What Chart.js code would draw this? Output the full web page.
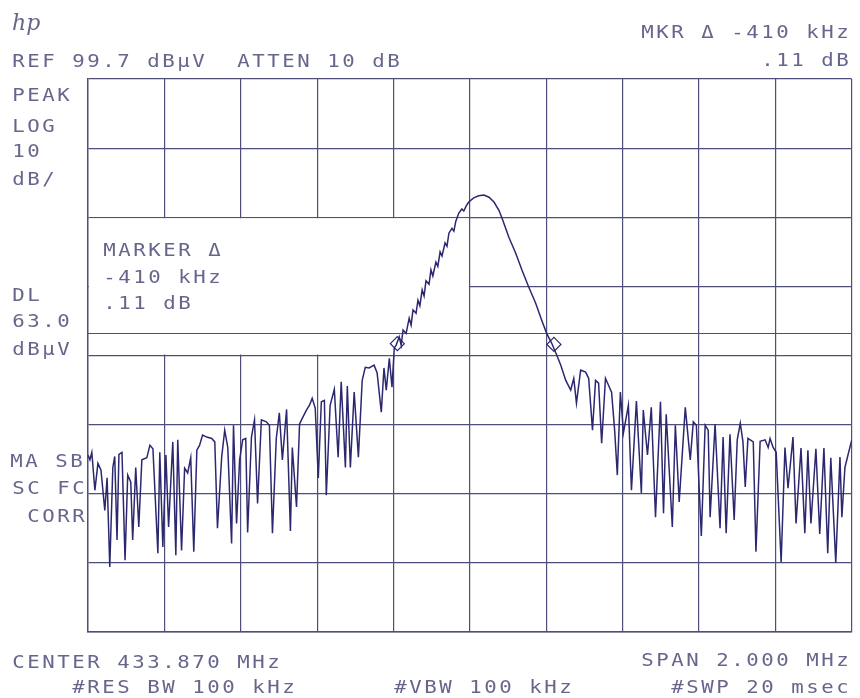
<!DOCTYPE html>
<html>
<head>
<meta charset="utf-8">
<script src="https://cdn.jsdelivr.net/npm/chart.js@4.4.1/dist/chart.umd.min.js"></script>
<style>
  html, body { margin: 0; padding: 0; background: #fff; }
  canvas { display: block; }
</style>
</head>
<body>
<canvas id="specChart" width="860" height="698"></canvas>
<script>
// analyzer state
const refLevel = 99.7;        // dBuV, top graticule line
const attenDb = 10;
const centerMHz = 433.870;
const spanKHz = 2000;
const rbwKHz = 100;
const vbwKHz = 100;
const sweepMs = 20;
const displayLine = 63.0;     // DL, dBuV

// marker pair: reference marker and delta marker
const refMarkerKHz = 220;
const refMarkerDbuv = 61.30;
const deltaKHz = -410;
const deltaDb = 0.11;

// graticule
const freqGridKHz = [-1000, -800, -600, -400, -200, 0, 200, 400, 600, 800, 1000];
const levelGridDbuv = [19.7, 29.7, 39.7, 49.7, 59.7, 69.7, 79.7, 89.7, 99.7];

// trace A, offset from center (kHz) and level (dBuV)
const sweepKHz = [
  -1000, -995, -990, -982, -974, -966, -956, -950, -943, -935,
  -930, -924, -919, -911, -903, -896, -888, -883, -875, -867,
  -859, -846, -838, -830, -817, -812, -804, -796, -789, -778,
  -770, -765, -755, -747, -739, -731, -723, -715, -708, -700,
  -689, -676, -668, -661, -650, -642, -634, -624, -619, -611,
  -603, -595, -587, -582, -572, -564, -556, -546, -533, -525,
  -517, -507, -499, -491, -480, -470, -465, -454, -446, -439,
  -428, -420, -413, -405, -397, -389, -381, -376, -366, -355,
  -345, -337, -326, -321, -313, -303, -292, -282, -274, -264,
  -251, -243, -232, -225, -219, -211, -204, -198, -193, -185,
  -180, -175, -167, -159, -154, -149, -141, -136, -131, -125,
  -120, -115, -107, -102, -97, -89, -84, -78, -73, -65,
  -60, -55, -47, -42, -37, -29, -21, -16, -10, -3,
  10, 23, 37, 50, 63, 76, 84, 102, 120, 136,
  154, 172, 188, 201, 214, 227, 238, 251, 264, 272,
  279, 290, 303, 311, 321, 329, 337, 345, 355, 363,
  371, 379, 386, 394, 402, 415, 423, 436, 449, 454,
  465, 475, 486, 499, 507, 514, 530, 538, 548, 564,
  577, 585, 593, 606, 616, 624, 629, 642, 655, 663,
  671, 681, 692, 700, 708, 715, 721, 728, 742, 749,
  760, 773, 781, 786, 794, 802, 815, 825, 833, 846,
  854, 867, 877, 885, 893, 906, 916, 927, 937, 945,
  958, 969, 974, 982, 990, 1000
];
const traceDbuv = [
  45.3, 44.6, 45.7, 40.2, 44.1, 43.1, 37.3, 42.0, 29.1, 43.5,
  45.1, 33.0, 45.4, 45.7, 30.1, 42.4, 41.4, 33.0, 43.5, 34.9,
  44.6, 44.9, 46.7, 46.2, 31.1, 45.7, 32.0, 45.3, 34.9, 47.2,
  30.8, 47.5, 31.5, 43.4, 42.7, 44.9, 31.3, 46.0, 46.7, 48.2,
  47.9, 47.7, 47.2, 34.7, 45.0, 48.9, 46.4, 32.5, 49.6, 35.4,
  44.6, 47.5, 47.7, 34.1, 47.9, 50.4, 38.3, 50.4, 50.1, 49.6,
  34.0, 47.7, 51.4, 44.6, 51.9, 34.3, 46.4, 37.8, 49.8, 50.6,
  51.8, 52.5, 53.5, 52.1, 42.0, 53.0, 53.2, 39.5, 52.5, 54.8,
  45.0, 55.9, 43.5, 55.3, 43.5, 54.4, 45.0, 56.1, 58.0, 57.9,
  58.3, 57.2, 51.5, 57.9, 54.7, 59.3, 55.1, 60.8, 61.2, 62.4,
  61.2, 63.4, 62.9, 65.1, 64.1, 66.3, 65.8, 67.7, 66.9, 69.2,
  68.3, 70.5, 70.0, 72.1, 71.2, 73.2, 72.6, 74.7, 74.1, 76.0,
  75.5, 77.4, 78.1, 77.7, 79.1, 80.3, 80.9, 80.6, 81.3, 81.9,
  82.5, 82.8, 82.9, 82.6, 81.9, 80.7, 79.6, 76.8, 74.5, 72.1,
  69.6, 67.3, 64.8, 62.9, 61.5, 59.8, 58.3, 56.1, 54.7, 56.4,
  52.8, 57.6, 57.3, 56.4, 48.9, 56.1, 55.7, 47.0, 56.4, 55.4,
  54.4, 48.9, 42.4, 54.4, 48.5, 52.5, 40.2, 53.1, 39.8, 51.8,
  45.3, 52.2, 36.3, 53.0, 36.9, 51.2, 34.9, 49.6, 38.5, 52.2,
  44.6, 50.1, 49.6, 33.6, 49.6, 48.9, 36.3, 49.8, 34.7, 47.9,
  34.0, 48.3, 35.9, 47.5, 49.9, 47.2, 40.7, 47.7, 47.2, 31.3,
  47.3, 47.5, 46.4, 47.7, 46.4, 45.7, 29.8, 46.4, 40.5, 47.9,
  35.4, 46.3, 34.0, 46.0, 35.4, 46.2, 33.9, 46.3, 31.1, 44.9,
  29.7, 45.0, 36.3, 43.5, 45.3, 47.5
];

const gridInk = '#4e4e7a';
const traceInk = '#2c2870';
const textInk = '#66668c';

// plotter style lettering, fixed pitch
function plotText(c, str, x, y, align) {
  const pitch = 15;
  const chars = Array.from(str);
  const x0 = align === 'right' ? x - chars.length * pitch : x;
  c.save();
  c.font = '18px "DejaVu Sans Mono"';
  c.fillStyle = textInk;
  c.textAlign = 'center';
  c.textBaseline = 'alphabetic';
  chars.forEach((ch, i) => {
    c.save();
    c.translate(x0 + i * pitch + pitch / 2, y);
    c.scale(1.15, 1);
    c.fillText(ch, 0, 0);
    c.restore();
  });
  c.restore();
}

const fmtDb = v => v.toFixed(2).replace(/^0/, '');

// blank the graticule behind the marker readout, then the display line
const graticuleMask = {
  id: 'graticuleMask',
  beforeDatasetsDraw(chart) {
    const { ctx, scales: { x, y }, chartArea } = chart;
    const x0 = x.getPixelForValue(freqGridKHz[0]) + 1;
    const x1 = x.getPixelForValue(0) - 1;
    const y0 = y.getPixelForValue(levelGridDbuv[6]) + 1;
    const y1 = y.getPixelForValue(levelGridDbuv[4]) - 1;
    ctx.save();
    ctx.fillStyle = '#fff';
    ctx.fillRect(x0, y0, x1 - x0, y1 - y0);
    const yDl = Math.round(y.getPixelForValue(displayLine)) + 0.5;
    ctx.strokeStyle = gridInk;
    ctx.lineWidth = 1.2;
    ctx.beginPath();
    ctx.moveTo(chartArea.left, yDl);
    ctx.lineTo(chartArea.right, yDl);
    ctx.stroke();
    ctx.restore();
  }
};

const annotations = {
  id: 'annotations',
  afterDraw(chart) {
    const c = chart.ctx;
    c.save();
    c.font = 'italic 22px "DejaVu Serif"';
    c.fillStyle = textInk;
    c.fillText('hp', 12, 30);
    c.restore();

    plotText(c, 'REF ' + refLevel.toFixed(1) + ' dBµV  ATTEN ' + attenDb + ' dB', 11, 67);
    plotText(c, 'MKR Δ ' + deltaKHz + ' kHz', 850, 38, 'right');
    plotText(c, fmtDb(deltaDb) + ' dB', 850, 66, 'right');

    plotText(c, 'PEAK', 11, 101);
    plotText(c, 'LOG', 11, 132);
    plotText(c, '10', 11, 157);
    plotText(c, 'dB/', 11, 185);

    plotText(c, 'MARKER Δ', 102, 256);
    plotText(c, deltaKHz + ' kHz', 102, 283);
    plotText(c, fmtDb(deltaDb) + ' dB', 102, 309);

    plotText(c, 'DL', 11, 301);
    plotText(c, displayLine.toFixed(1), 11, 327);
    plotText(c, 'dBµV', 11, 355);

    plotText(c, 'MA SB', 9, 467);
    plotText(c, 'SC FC', 11, 494);
    plotText(c, 'CORR', 26, 522);

    plotText(c, 'CENTER ' + centerMHz.toFixed(3) + ' MHz', 11, 668);
    plotText(c, '#RES BW ' + rbwKHz + ' kHz', 71, 693);
    plotText(c, '#VBW ' + vbwKHz + ' kHz', 393, 693);
    plotText(c, 'SPAN ' + (spanKHz / 1000).toFixed(3) + ' MHz', 850, 666, 'right');
    plotText(c, '#SWP ' + sweepMs + ' msec', 850, 693, 'right');
  }
};

const ctx = document.getElementById('specChart').getContext('2d');
const specChart = new Chart(ctx, {
  type: 'line',
  data: {
    datasets: [{
      label: 'Trace A',
      data: sweepKHz.map((f, i) => ({ x: f, y: traceDbuv[i] })),
      borderColor: traceInk,
      borderWidth: 1.5,
      pointRadius: 0,
      tension: 0
    }, {
      label: 'Markers',
      data: [
        { x: refMarkerKHz + deltaKHz, y: refMarkerDbuv + deltaDb },
        { x: refMarkerKHz, y: refMarkerDbuv }
      ],
      showLine: false,
      pointStyle: 'rectRot',
      pointRadius: 7,
      borderColor: traceInk,
      borderWidth: 1.2,
      backgroundColor: 'rgba(0,0,0,0)'
    }]
  },
  options: {
    responsive: false,
    animation: false,
    events: [],
    layout: { padding: { left: 88, top: 79, right: 6, bottom: 66 } },
    scales: {
      x: {
        type: 'linear',
        min: freqGridKHz[0],
        max: freqGridKHz[freqGridKHz.length - 1],
        afterBuildTicks: s => { s.ticks = freqGridKHz.map(v => ({ value: v })); },
        afterFit: s => { s.height = 0; },
        ticks: { display: false },
        grid: { color: gridInk, lineWidth: 1.2, drawTicks: false },
        border: { color: gridInk, width: 1.4 }
      },
      y: {
        type: 'linear',
        min: levelGridDbuv[0],
        max: levelGridDbuv[levelGridDbuv.length - 1],
        afterBuildTicks: s => { s.ticks = levelGridDbuv.map(v => ({ value: v })); },
        afterFit: s => { s.width = 0; },
        ticks: { display: false },
        grid: { color: gridInk, lineWidth: 1.2, drawTicks: false },
        border: { color: gridInk, width: 1.4 }
      }
    },
    plugins: {
      legend: { display: false },
      tooltip: { enabled: false }
    }
  },
  plugins: [graticuleMask, annotations]
});
</script>
</body>
</html>
